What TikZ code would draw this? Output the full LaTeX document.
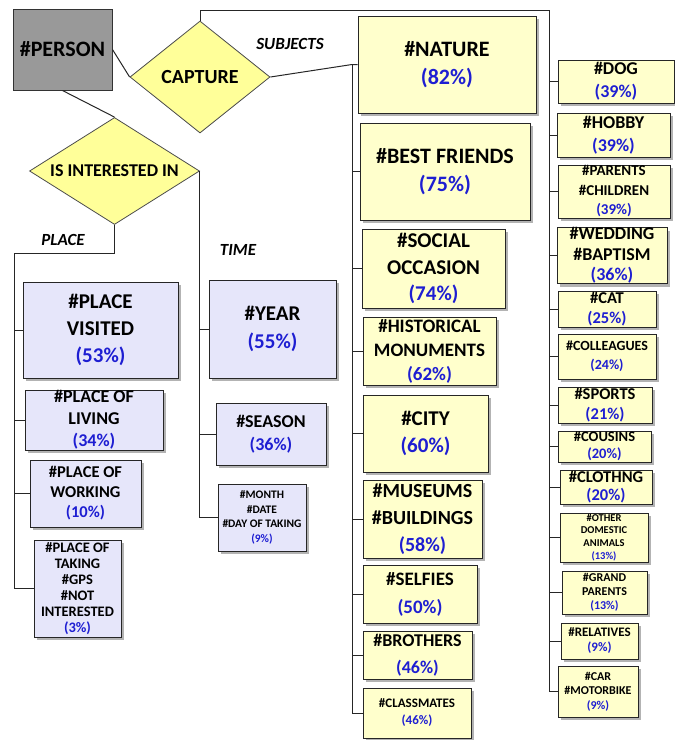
\documentclass[tikz,border=0pt]{standalone}
\usepackage{fontspec}
\setmainfont{Carlito}
\usetikzlibrary{shapes.geometric, shadows}

\definecolor{pctblue}{RGB}{30,30,210}
\definecolor{subjfill}{RGB}{255,255,204}
\definecolor{ctxfill}{RGB}{230,230,250}
\definecolor{relfill}{RGB}{255,255,153}
\definecolor{entfill}{RGB}{153,153,153}

\newcommand{\sz}[2]{\fontsize{#1}{#2}\selectfont\bfseries}
\newcommand{\pct}[1]{\textcolor{pctblue}{(#1\%)}}

\begin{document}
\begin{tikzpicture}[x=1pt, y=-1pt,
  wh/.style 2 args={minimum width=#1pt, minimum height=#2pt},
  entity/.style={rectangle, draw=black!80, fill=entfill, line width=1pt, inner sep=0pt},
  rel/.style={diamond, draw=black!70, fill=relfill, line width=0.8pt, inner sep=0pt},
  box/.style={rectangle, draw=black!85, line width=1pt, inner sep=0pt, align=center,
    drop shadow={shadow xshift=3pt, shadow yshift=-3pt, fill=black!50, opacity=0.6}},
  subj/.style={box, fill=subjfill},
  ctx/.style={box, fill=ctxfill},
  edge/.style={draw=black!85, line width=1pt},
  role/.style={font=\sz{17}{20}\itshape}]
	\useasboundingbox (0,0) rectangle (675,740);

	% Entity and relations
	\node[entity, wh={99}{81}, font=\sz{22}{26}] (person) at (62.5,49.5) {\#PERSON};
	\node[rel, wh={140}{112}, aspect=1.25, font=\sz{20}{24}] (capture) at (200,77) {CAPTURE};
	\node[rel, wh={170}{107}, aspect=1.6, font=\sz{18}{22}] (interest) at (114.5,171) {IS INTERESTED IN};

	% Role labels
	\node[role] (subjlbl) at (290,44) {SUBJECTS};
	\node[role] (placelbl) at (63,240) {PLACE};
	\node[role] (timelbl) at (238,250) {TIME};

	% Place
	\node[ctx, wh={155}{96}, font=\sz{21}{27}] (pl1) at (100.5,330) {\#PLACE\\VISITED\\\pct{53}};
	\node[ctx, wh={138}{60}, font=\sz{18}{22}] (pl2) at (94,420) {\#PLACE OF\\LIVING\\\pct{34}};
	\node[ctx, wh={111}{67}, font=\sz{16.5}{20}] (pl3) at (85.5,493.5) {\#PLACE OF\\WORKING\\\pct{10}};
	\node[ctx, wh={87}{97}, font=\sz{14.5}{16}] (pl4) at (77.5,588.5) {\#PLACE OF\\TAKING\\\#GPS\\\#NOT\\INTERESTED\\\pct{3}};

	% Time
	\node[ctx, wh={127}{98}, font=\sz{21}{28}] (tm1) at (272.5,329) {\#YEAR\\\pct{55}};
	\node[ctx, wh={110}{62}, font=\sz{18}{23}] (tm2) at (271,434) {\#SEASON\\\pct{36}};
	\node[ctx, wh={88}{67}, font=\sz{11.5}{14.5}] (tm3) at (262,517.5) {\#MONTH\\\#DATE\\\#DAY OF TAKING\\\pct{9}};

	% Subjects, first column
	\node[subj, wh={178}{97}, font=\sz{22}{28}] (s1) at (447,64.5) {\#NATURE\\\pct{82}};
	\node[subj, wh={170}{97}, font=\sz{22}{28}] (s2) at (445,171.5) {\#BEST FRIENDS\\\pct{75}};
	\node[subj, wh={143}{79}, font=\sz{21}{26.5}] (s3) at (433.5,268.5) {\#SOCIAL\\OCCASION\\\pct{74}};
	\node[subj, wh={133}{68}, font=\sz{19}{24}] (s4) at (429.5,351) {\#HISTORICAL\\MONUMENTS\\\pct{62}};
	\node[subj, wh={125}{77}, font=\sz{21}{27}] (s5) at (425.5,433.5) {\#CITY\\\pct{60}};
	\node[subj, wh={119}{78}, font=\sz{20}{27}] (s6) at (422.5,519) {\#MUSEUMS\\\#BUILDINGS\\\pct{58}};
	\node[subj, wh={114}{58}, font=\sz{19}{28}] (s7) at (420,594) {\#SELFIES\\\pct{50}};
	\node[subj, wh={109}{48}, font=\sz{18}{27}] (s8) at (417.5,655) {\#BROTHERS\\\pct{46}};
	\node[subj, wh={108}{50}, font=\sz{13}{17}] (s9) at (417,713) {\#CLASSMATES\\\pct{46}};

	% Subjects, second column
	\node[subj, wh={116}{43}, font=\sz{18}{23}] (d1) at (616,81.5) {\#DOG\\\pct{39}};
	\node[subj, wh={113}{44}, font=\sz{18}{23}] (d2) at (613.5,135) {\#HOBBY\\\pct{39}};
	\node[subj, wh={112}{53}, font=\sz{15}{19.5}] (d3) at (614,191.5) {\#PARENTS\\\#CHILDREN\\\pct{39}};
	\node[subj, wh={110}{55}, font=\sz{18}{20.5}] (d4) at (612,255.5) {\#WEDDING\\\#BAPTISM\\\pct{36}};
	\node[subj, wh={98}{36}, font=\sz{16.5}{20}] (d5) at (607,309) {\#CAT\\\pct{25}};
	\node[subj, wh={98}{45}, font=\sz{14}{19}] (d6) at (607,356.5) {\#COLLEAGUES\\\pct{24}};
	\node[subj, wh={94}{36}, font=\sz{16.5}{19.5}] (d7) at (605,405) {\#SPORTS\\\pct{21}};
	\node[subj, wh={93}{31}, font=\sz{14.5}{17}] (d8) at (604.5,446.5) {\#COUSINS\\\pct{20}};
	\node[subj, wh={92}{34}, font=\sz{16.5}{17.5}] (d9) at (606,487) {\#CLOTHNG\\\pct{20}};
	\node[subj, wh={88}{49}, font=\sz{10.5}{12.7}] (d10) at (604,537.5) {\#OTHER\\DOMESTIC\\ANIMALS\\\pct{13}};
	\node[subj, wh={85}{43}, font=\sz{12}{14}] (d11) at (604.5,592.5) {\#GRAND\\PARENTS\\\pct{13}};
	\node[subj, wh={77}{36}, font=\sz{13}{15}] (d12) at (599.5,641) {\#RELATIVES\\\pct{9}};
	\node[subj, wh={80}{51}, font=\sz{12}{14.5}] (d13) at (598,691.5) {\#CAR\\\#MOTORBIKE\\\pct{9}};

	% Bus corners
	\coordinate (dbus) at (549,10);
	\coordinate (sbus) at (352,64.5);
	\coordinate (pbus) at (14,253);

	% Connectors
	\draw[edge] (person.east) -- (capture.west);
	\draw[edge] (person.south) -- (interest.north);

	\draw[edge] (capture.north) |- (dbus) -- (dbus |- d13.west) -- (d13.west);
	\foreach \i in {1,...,12}
		\draw[edge] (dbus |- d\i.west) -- (d\i.west);

	\draw[edge] (capture.east) -- (sbus) -- (s1.west);
	\draw[edge] (sbus) -- (sbus |- s9.west) -- (s9.west);
	\foreach \i in {2,...,8}
		\draw[edge] (sbus |- s\i.west) -- (s\i.west);

	\draw[edge] (interest.south) |- (pbus) -- (pbus |- pl4.west) -- (pl4.west);
	\foreach \i in {1,2,3}
		\draw[edge] (pbus |- pl\i.west) -- (pl\i.west);

	\draw[edge] (interest.east) -- (interest.east |- tm3.west) -- (tm3.west);
	\foreach \i in {1,2}
		\draw[edge] (interest.east |- tm\i.west) -- (tm\i.west);
\end{tikzpicture}
\end{document}
